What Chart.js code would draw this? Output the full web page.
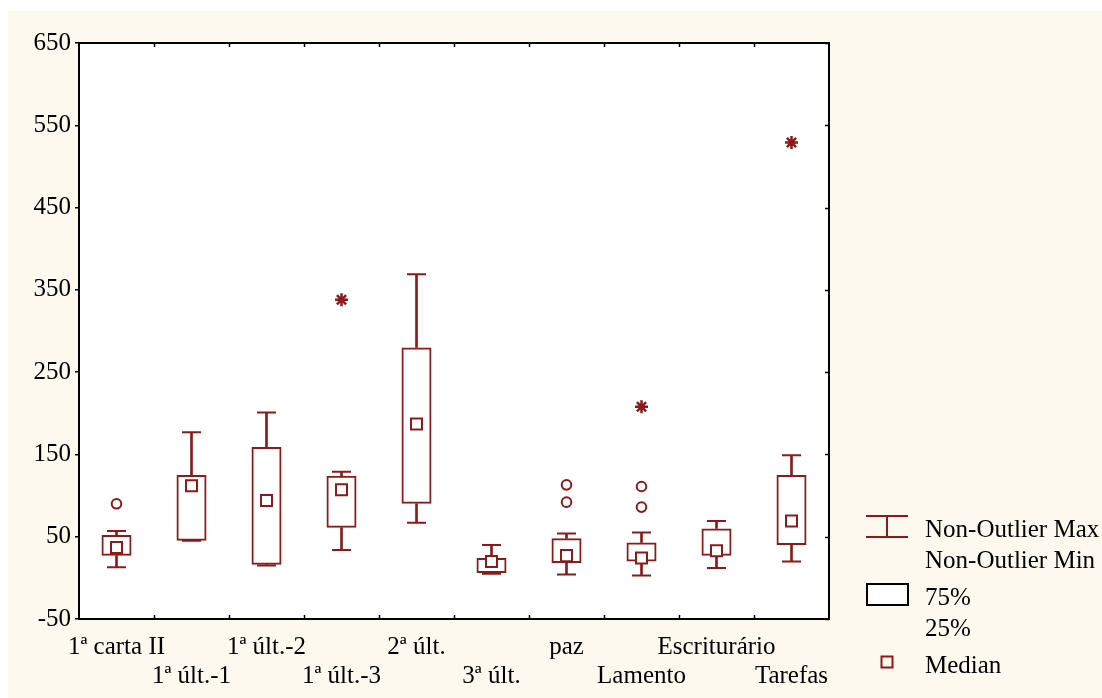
<!DOCTYPE html>
<html>
<head>
<meta charset="utf-8">
<script src="https://cdn.jsdelivr.net/npm/chart.js@4/dist/chart.umd.min.js"></script>
<style>
  html, body { margin: 0; padding: 0; background: #ffffff; }
  #wrap { position: absolute; left: 8px; top: 11px; width: 1094px; height: 687px; background: #fdf9ef; }
  canvas { display: block; }
</style>
</head>
<body>
<div id="wrap"><canvas id="boxChart" width="1094" height="687"></canvas></div>
<script>
// --- data ---
const categories = ['1ª carta II', '1ª últ.-1', '1ª últ.-2', '1ª últ.-3', '2ª últ.', '3ª últ.', 'paz', 'Lamento', 'Escriturário', 'Tarefas'];
const nonOutlierMax = [57, 177, 201, 129, 369, 40, 54, 55, 69, 149];
const q75 = [52, 125, 159, 124, 280, 24, 48, 43, 60, 125];
const medians = [37, 112, 94, 107, 187, 20, 27, 24, 33, 69];
const q25 = [27, 45, 16, 61, 90, 6, 18, 20, 27, 40];
const nonOutlierMin = [13, 45, 15, 34, 67, 5, 4, 3, 12, 20];

const outlierCats = ['1ª carta II', 'paz', 'paz', 'Lamento', 'Lamento'];
const outlierVals = [90, 113, 92, 111, 86];
const extremeCats = ['1ª últ.-3', 'Lamento', 'Tarefas'];
const extremeVals = [338, 208, 529];

const yTicks = [-50, 50, 150, 250, 350, 450, 550, 650];

const RED = '#8c1a1a';
const FONT = { family: '"Liberation Serif", "Times New Roman", serif', size: 25 };

document.addEventListener('DOMContentLoaded', function() {
    const canvasElement = document.getElementById('boxChart');

    // frame, inward ticks on top/right/bottom, white plot background
    const framePlugin = {
        id: 'frame',
        beforeDraw(chart) {
            const a = chart.chartArea, ctx = chart.ctx;
            ctx.save();
            ctx.fillStyle = '#ffffff';
            ctx.fillRect(a.left, a.top, a.right - a.left, a.bottom - a.top);
            ctx.restore();
        },
        afterDraw(chart) {
            const a = chart.chartArea, ctx = chart.ctx;
            const xs = chart.scales.x, ys = chart.scales.y;
            ctx.save();
            ctx.strokeStyle = '#000';
            ctx.lineWidth = 1.5;
            ctx.beginPath();
            for (let i = 1; i < categories.length; i++) {
                const px = Math.round(xs.getPixelForValue(i - 0.5)) + 0.5;
                ctx.moveTo(px, a.bottom); ctx.lineTo(px, a.bottom - 4);
                ctx.moveTo(px, a.top); ctx.lineTo(px, a.top + 4);
            }
            yTicks.forEach(function(v) {
                const py = Math.round(ys.getPixelForValue(v)) + 0.5;
                ctx.moveTo(a.right, py); ctx.lineTo(a.right - 4, py);
            });
            ctx.stroke();
            ctx.lineWidth = 2;
            ctx.strokeRect(a.left, a.top, a.right - a.left, a.bottom - a.top);
            ctx.restore();
        }
    };

    // statistica style legend on the right
    const legendPlugin = {
        id: 'boxLegend',
        afterDraw(chart) {
            const a = chart.chartArea, ctx = chart.ctx;
            const sx = a.right + 37, tx = a.right + 96, b = a.bottom;
            ctx.save();
            // whisker symbol
            ctx.strokeStyle = RED;
            ctx.lineWidth = 2;
            ctx.beginPath();
            ctx.moveTo(sx, b - 103); ctx.lineTo(sx + 42, b - 103);
            ctx.moveTo(sx, b - 82); ctx.lineTo(sx + 42, b - 82);
            ctx.moveTo(sx + 21, b - 103); ctx.lineTo(sx + 21, b - 82);
            ctx.stroke();
            // box symbol
            ctx.fillStyle = '#ffffff';
            ctx.fillRect(sx + 1, b - 35, 41, 21);
            ctx.strokeStyle = '#000';
            ctx.strokeRect(sx + 1, b - 35, 41, 21);
            // median symbol
            ctx.strokeStyle = RED;
            ctx.strokeRect(sx + 15.5, b + 37.5, 11, 11);
            // texts
            ctx.fillStyle = '#000';
            ctx.font = FONT.size + 'px ' + FONT.family;
            ctx.textBaseline = 'alphabetic';
            ctx.textAlign = 'left';
            ctx.fillText('Non-Outlier Max', tx, b - 82);
            ctx.fillText('Non-Outlier Min', tx, b - 51);
            ctx.fillText('75%', tx, b - 14);
            ctx.fillText('25%', tx, b + 17);
            ctx.fillText('Median', tx, b + 54);
            ctx.restore();
        }
    };

    new Chart(canvasElement, {
        type: 'bar',
        data: {
            labels: categories,
            datasets: [
                {
                    type: 'line',
                    label: 'Median',
                    data: medians,
                    showLine: false,
                    pointStyle: 'rect',
                    pointRadius: 7.8,
                    pointBorderWidth: 2,
                    pointBorderColor: RED,
                    pointBackgroundColor: '#ffffff',
                    order: 1
                },
                {
                    type: 'line',
                    label: 'Outliers',
                    data: outlierCats.map((c, i) => ({ x: c, y: outlierVals[i] })),
                    showLine: false,
                    pointStyle: 'circle',
                    pointRadius: 4.8,
                    pointBorderWidth: 2,
                    pointBorderColor: RED,
                    pointBackgroundColor: 'rgba(0,0,0,0)',
                    order: 1
                },
                {
                    type: 'line',
                    label: 'Extremes',
                    data: extremeCats.map((c, i) => ({ x: c, y: extremeVals[i] })),
                    showLine: false,
                    pointStyle: 'star',
                    pointRadius: 6.5,
                    pointBorderWidth: 2.5,
                    pointBorderColor: RED,
                    order: 1
                },
                {
                    type: 'line',
                    label: 'Max cap',
                    data: nonOutlierMax,
                    showLine: false,
                    pointStyle: 'line',
                    pointRadius: 9.5,
                    pointBorderWidth: 2,
                    pointBorderColor: RED,
                    order: 2
                },
                {
                    type: 'line',
                    label: 'Min cap',
                    data: nonOutlierMin,
                    showLine: false,
                    pointStyle: 'line',
                    pointRadius: 9.5,
                    pointBorderWidth: 2,
                    pointBorderColor: RED,
                    order: 2
                },
                {
                    label: 'Upper whisker',
                    data: q75.map((v, i) => [v, nonOutlierMax[i]]),
                    backgroundColor: RED,
                    borderWidth: 0,
                    barThickness: 2,
                    grouped: false,
                    order: 3
                },
                {
                    label: 'Lower whisker',
                    data: q25.map((v, i) => [nonOutlierMin[i], v]),
                    backgroundColor: RED,
                    borderWidth: 0,
                    barThickness: 2,
                    grouped: false,
                    order: 3
                },
                {
                    label: '25%-75%',
                    data: q25.map((v, i) => [v, q75[i]]),
                    backgroundColor: 'rgba(0,0,0,0)',
                    borderColor: RED,
                    borderWidth: 2,
                    borderSkipped: false,
                    barPercentage: 0.4,
                    categoryPercentage: 1,
                    grouped: false,
                    order: 2
                }
            ]
        },
        options: {
            responsive: false,
            animation: false,
            devicePixelRatio: 1,
            layout: {
                padding: { left: 0, top: 32, right: 273, bottom: 0 }
            },
            scales: {
                x: {
                    offset: true,
                    grid: { display: false },
                    border: { display: false },
                    ticks: {
                        autoSkip: false,
                        maxRotation: 0,
                        minRotation: 0,
                        padding: 6,
                        color: '#000',
                        font: Object.assign({ lineHeight: 1.16 }, FONT),
                        callback: function(value, index) {
                            return index % 2 === 0 ? [categories[index], ''] : ['', categories[index]];
                        }
                    },
                    afterFit: function(scale) { scale.height = 79; }
                },
                y: {
                    min: -50,
                    max: 650,
                    afterBuildTicks: function(scale) {
                        scale.ticks = yTicks.map(v => ({ value: v }));
                    },
                    grid: {
                        drawOnChartArea: false,
                        drawTicks: true,
                        tickLength: 4,
                        color: '#000',
                        lineWidth: 1.5
                    },
                    border: { display: false },
                    ticks: {
                        padding: 4,
                        color: '#000',
                        font: FONT
                    },
                    afterFit: function(scale) { scale.width = 71; }
                }
            },
            plugins: {
                legend: { display: false },
                tooltip: { enabled: false }
            }
        },
        plugins: [framePlugin, legendPlugin]
    });
});
</script>
</body>
</html>
